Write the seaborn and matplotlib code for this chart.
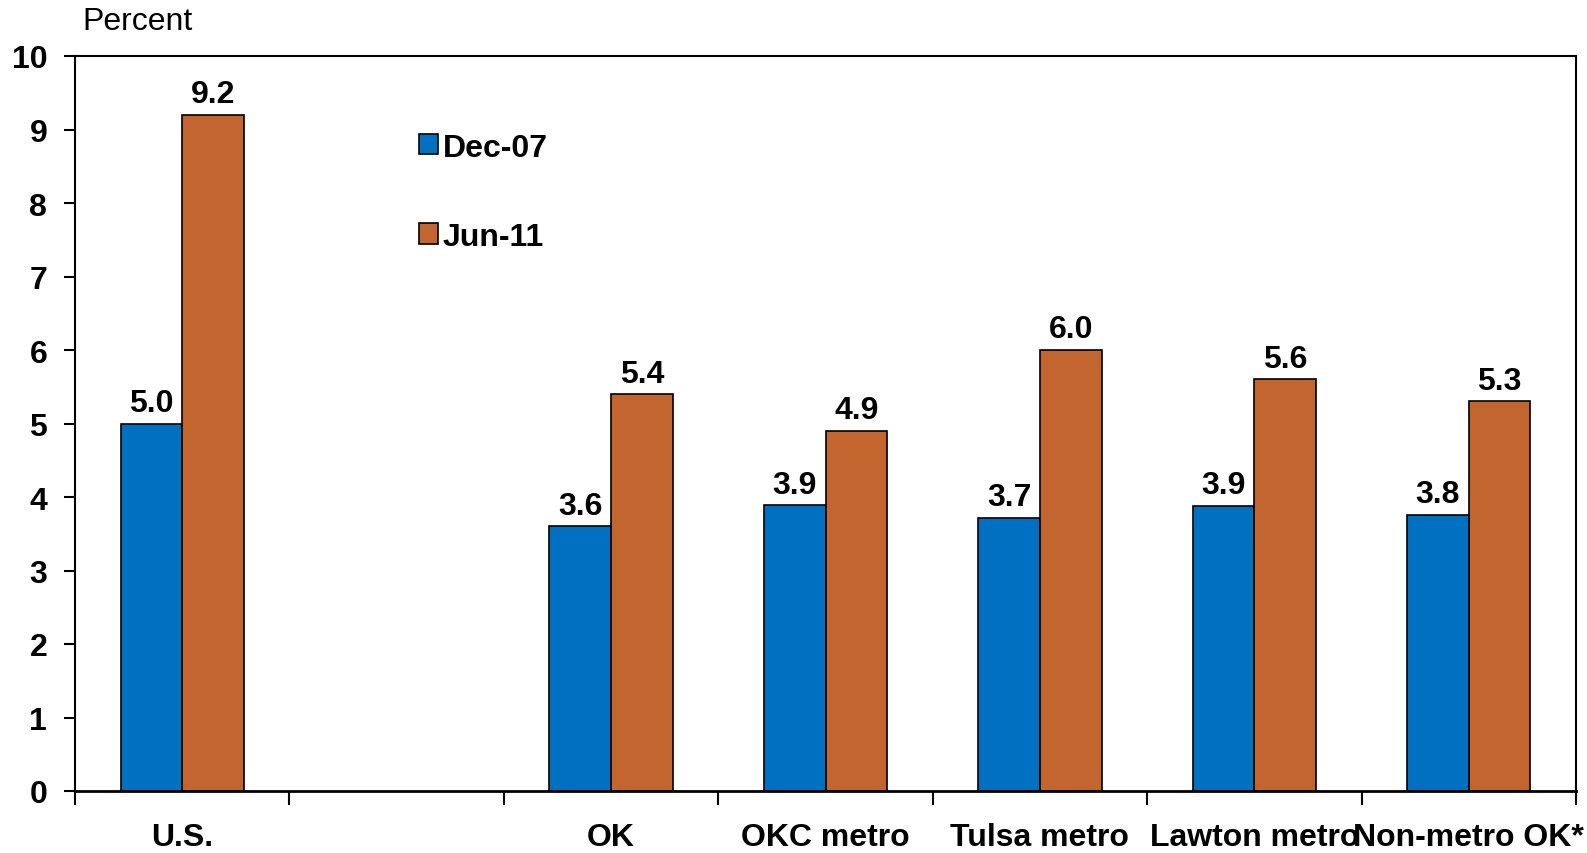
import matplotlib
matplotlib.use("Agg")
import matplotlib.pyplot as plt
import seaborn as sns
import pandas as pd
from matplotlib.patches import Patch

categories = ["U.S.", "", "OK", "OKC metro", "Tulsa metro", "Lawton metro", "Non-metro OK*"]
regions = ["U.S.", "OK", "OKC metro", "Tulsa metro", "Lawton metro", "Non-metro OK*"]
dec07 = [5.0, 3.6, 3.89, 3.72, 3.88, 3.76]
jun11 = [9.2, 5.4, 4.9, 6.0, 5.6, 5.3]
series = ["Dec-07", "Jun-11"]
colors = ["#0070C0", "#C3652E"]

df = pd.DataFrame({
    "region": regions * 2,
    "value": dec07 + jun11,
    "series": [series[0]] * len(regions) + [series[1]] * len(regions),
})

sns.set_style("white")
plt.rcParams["font.family"] = ["Liberation Sans", "DejaVu Sans"]
plt.rcParams["text.color"] = "black"
plt.rcParams["xtick.color"] = "black"
plt.rcParams["ytick.color"] = "black"
plt.rcParams["xtick.labelcolor"] = "black"
plt.rcParams["ytick.labelcolor"] = "black"
FS = 23

W, H = 1587, 854
L, R, T, B = 75, 1576, 57, 792
fig = plt.figure(figsize=(W / 100, H / 100), dpi=100)
ax = fig.add_axes([L / W, 1 - B / H, (R - L) / W, (B - T) / H])

sns.barplot(data=df, x="region", y="value", hue="series", order=categories,
            hue_order=series, palette=colors, width=0.575, dodge=True,
            edgecolor="black", linewidth=1.2, saturation=1, errorbar=None,
            legend=False, ax=ax)

for cont in ax.containers:
    ax.bar_label(cont, labels=[f"{v:.1f}" for v in cont.datavalues], padding=4,
                 fontsize=FS, fontweight="bold", color="black")

ax.set_xlim(-0.5, len(categories) - 0.5)
ax.set_ylim(0, 10)
ax.set_yticks(range(0, 11))
ax.set_yticklabels([str(i) for i in range(0, 11)], fontsize=FS, fontweight="bold")
ax.set_xticks([i - 0.5 for i in range(len(categories) + 1)])
ax.set_xticklabels([])
ax.set_xticks(range(len(categories)), minor=True)
ax.set_xticklabels(categories, minor=True, fontsize=FS, fontweight="bold")
ax.tick_params(axis="x", which="major", bottom=True, direction="out", length=10,
               width=1.5, color="black")
ax.tick_params(axis="x", which="minor", bottom=True, length=0, pad=22)
ax.tick_params(axis="y", left=True, direction="out", length=8, width=1.5,
               color="black", pad=12)
ax.set_xlabel("")
ax.set_ylabel("")
for s in ax.spines.values():
    s.set_visible(True)
    s.set_color("black")
    s.set_linewidth(1.5)
ax.spines["bottom"].set_linewidth(2)

fig.text(82 / W, 1 - 22 / H, "Percent", fontsize=FS, va="center", ha="left")

handles = [Patch(facecolor=c, edgecolor="black", linewidth=1.2, label=l)
           for c, l in zip(colors, series)]
leg = ax.legend(handles=handles, loc="upper left", bbox_to_anchor=(0.21, 0.935),
                frameon=False, prop={"size": FS, "weight": "bold"},
                handlelength=0.6, handleheight=0.6, handletextpad=0.15,
                labelspacing=1.85)

fig.savefig("out.png", dpi=100)
